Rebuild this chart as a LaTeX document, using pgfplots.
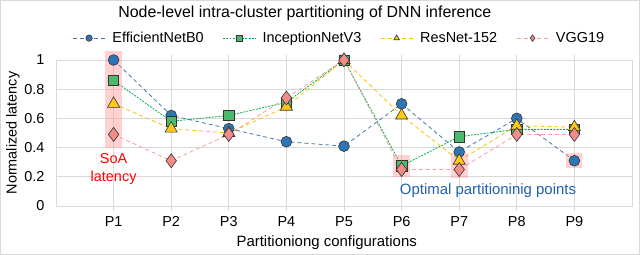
\documentclass[border=0pt]{standalone}
\usepackage{pgfplots}
\pgfplotsset{compat=1.18}
\usepackage{fontspec}
\setmainfont{Liberation Sans}
\definecolor{effline}{HTML}{4A75A8}
\definecolor{efffill}{HTML}{2E75B6}
\definecolor{incline}{HTML}{00B050}
\definecolor{incfill}{HTML}{4CB86E}
\definecolor{resline}{HTML}{FFC000}
\definecolor{resfill}{HTML}{FFC819}
\definecolor{vggline}{HTML}{F4A0A0}
\definecolor{vggfill}{HTML}{F28C86}
\definecolor{hl}{HTML}{FF9A9A}
\definecolor{optblue}{HTML}{1F5FAE}
\definecolor{gridc}{HTML}{D9D9D9}
\begin{document}
\begin{tikzpicture}
\begin{axis}[
  scale only axis, width=576bp, height=146bp,
  xmin=0, xmax=10, ymin=0, ymax=1,
  xtick={1,2,3,4,5,6,7,8,9},
  xticklabels={P1,P2,P3,P4,P5,P6,P7,P8,P9},
  ytick={0,0.2,0.4,0.6,0.8,1},
  yticklabels={0,0.2,0.4,0.6,0.8,1},
  grid=major, grid style={draw=gridc, line width=0.7pt},
  axis line style={draw=gridc, line width=0.7pt},
  x tick style={draw=gridc, line width=0.7pt},
  y tick style={draw=none},
  tick align=outside, major tick length=5bp,
  tick label style={font=\fontsize{14.5}{16}\selectfont},
  xticklabel style={yshift=-2bp},
  yticklabel style={xshift=-3bp},
  legend style={at={(0.492,1.15)}, anchor=center, draw=none, fill=none,
    font=\fontsize{14.5}{16}\selectfont, legend columns=4,
    /tikz/every odd column/.append style={column sep=5bp},
    /tikz/every even column/.append style={column sep=17bp}},
  legend image code/.code={\draw[mark repeat=2, mark phase=2, #1, mark size=3.2bp]
     plot coordinates {(0bp,0bp) (16bp,0bp) (32bp,0bp)};},
  clip=false,
]
\addplot[effline, line width=0.8pt, dash pattern=on 4pt off 3pt,
  mark=*, mark size=5.4bp, mark options={solid, fill=efffill, draw=black!80, line width=0.6pt}]
  coordinates {(1,1.0) (2,0.62) (3,0.53) (4,0.44) (5,0.41) (6,0.70) (7,0.37) (8,0.60) (9,0.31)};
\addlegendentry{EfficientNetB0}
\addplot[incline, line width=0.8pt, dash pattern=on 2pt off 1.2pt,
  mark=square*, mark size=5.2bp, mark options={solid, fill=incfill, draw=black!80, line width=0.6pt}]
  coordinates {(1,0.86) (2,0.58) (3,0.62) (4,0.71) (5,1.0) (6,0.275) (7,0.475) (8,0.525) (9,0.525)};
\addlegendentry{InceptionNetV3}
\addplot[resline, line width=0.8pt, dash pattern=on 4pt off 3pt,
  mark=triangle*, mark size=7bp, mark options={solid, fill=resfill, draw=black!80, line width=0.6pt}]
  coordinates {(1,0.70) (2,0.53) (3,0.50) (4,0.68) (5,1.0) (6,0.62) (7,0.31) (8,0.55) (9,0.54)};
\addlegendentry{ResNet-152}
\addplot[vggline, line width=0.8pt, dash pattern=on 4pt off 3pt,
  mark=diamond*, mark size=7bp, mark options={solid, fill=vggfill, draw=black!80, line width=0.6pt}]
  coordinates {(1,0.49) (2,0.31) (3,0.49) (4,0.74) (5,1.0) (6,0.25) (7,0.25) (8,0.49) (9,0.49)};
\addlegendentry{VGG19}
% highlight boxes
\fill[hl, fill opacity=0.45] (axis cs:0.855,0.40) rectangle (axis cs:1.145,1.06);
\fill[hl, fill opacity=0.45] (axis cs:5.85,0.20) rectangle (axis cs:6.15,0.35);
\fill[hl, fill opacity=0.45] (axis cs:6.85,0.19) rectangle (axis cs:7.15,0.36);
\fill[hl, fill opacity=0.45] (axis cs:8.86,0.26) rectangle (axis cs:9.14,0.36);
\node[text=red, align=center, font=\fontsize{14.5}{17.5}\selectfont] at (axis cs:1,0.255) {SoA\\latency};
\node[text=optblue, font=\fontsize{15}{16}\selectfont] at (axis cs:7.5,0.105) {Optimal partitioninig points};
\node[font=\fontsize{16}{18}\selectfont] at (axis description cs:0.432,1.32) {Node-level intra-cluster partitioning of DNN inference};
\node[font=\fontsize{15}{16}\selectfont] at (axis description cs:0.47,-0.25) {Partitioniong configurations};
\node[font=\fontsize{14.5}{16}\selectfont, rotate=90] at ([xshift=-43bp]current axis.west) {Normalized latency};
\end{axis}
\pgfresetboundingbox
\path[use as bounding box, draw=gridc, line width=0.8pt] ([xshift=-55.6bp,yshift=-48.6bp]current axis.south west) rectangle ([xshift=7.6bp,yshift=59.6bp]current axis.north east);
\end{tikzpicture}
\end{document}
